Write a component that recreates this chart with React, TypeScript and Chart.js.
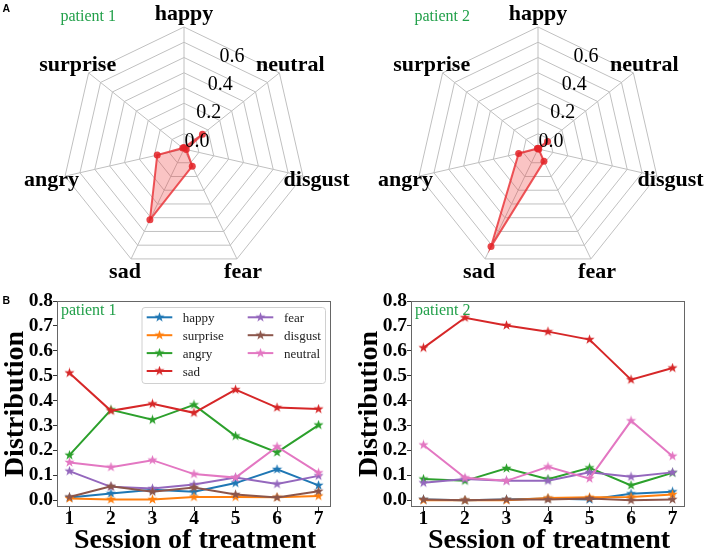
import React, { useEffect, useRef } from "react";
import { Chart, registerables } from "chart.js";
Chart.register(...registerables);

// ---------- data ----------
const radarLabels = ["happy", "neutral", "disgust", "fear", "sad", "angry", "surprise"];
const radarPatient1 = [0.01, 0.155, 0.015, 0.125, 0.515, 0.18, 0.01];
const radarPatient2 = [0.005, 0.08, 0.005, 0.09, 0.71, 0.13, 0.005];
const radarTickLabels = [0.0, 0.2, 0.4, 0.6];

const sessions = [1, 2, 3, 4, 5, 6, 7];
const yTickValues = [0.0, 0.1, 0.2, 0.3, 0.4, 0.5, 0.6, 0.7, 0.8];
const emotions = ["happy", "surprise", "angry", "sad", "fear", "disgust", "neutral"];

const p1Happy = [0.011, 0.027, 0.042, 0.034, 0.069, 0.124, 0.06];
const p1Surprise = [0.007, 0.003, 0.003, 0.013, 0.013, 0.012, 0.017];
const p1Angry = [0.181, 0.363, 0.323, 0.383, 0.258, 0.192, 0.302];
const p1Sad = [0.511, 0.359, 0.387, 0.351, 0.444, 0.372, 0.366];
const p1Fear = [0.117, 0.054, 0.047, 0.063, 0.091, 0.065, 0.098];
const p1Disgust = [0.013, 0.056, 0.034, 0.051, 0.023, 0.011, 0.036];
const p1Neutral = [0.152, 0.133, 0.161, 0.105, 0.091, 0.215, 0.11];

const p2Happy = [0.003, 0.0, 0.003, 0.007, 0.003, 0.026, 0.034];
const p2Surprise = [0.0, 0.0, 0.0, 0.009, 0.012, 0.013, 0.023];
const p2Angry = [0.085, 0.078, 0.128, 0.085, 0.13, 0.06, 0.11];
const p2Sad = [0.612, 0.733, 0.702, 0.677, 0.645, 0.484, 0.531];
const p2Fear = [0.07, 0.085, 0.078, 0.078, 0.112, 0.094, 0.112];
const p2Disgust = [0.003, 0.0, 0.003, 0.003, 0.007, 0.0, 0.003];
const p2Neutral = [0.222, 0.09, 0.078, 0.134, 0.087, 0.319, 0.177];

const patient1Series = [p1Happy, p1Surprise, p1Angry, p1Sad, p1Fear, p1Disgust, p1Neutral];
const patient2Series = [p2Happy, p2Surprise, p2Angry, p2Sad, p2Fear, p2Disgust, p2Neutral];

// ---------- styles ----------
const emotionColors = ["#1f77b4", "#ff7f0e", "#2ca02c", "#d62728", "#9467bd", "#8c564b", "#e377c2"];
const SERIF = '"Liberation Serif", "Times New Roman", Times, serif';
const SANS = '"Liberation Sans", Arial, "DejaVu Sans", sans-serif';
const GREEN = "#22a04a";

function makeStar(color: string, size = 11): HTMLCanvasElement {
  const c = document.createElement("canvas");
  c.width = size;
  c.height = size;
  const ctx = c.getContext("2d")!;
  const cx = size / 2, cy = size / 2;
  const ro = size / 2 - 0.2, ri = ro * 0.4;
  ctx.beginPath();
  for (let k = 0; k < 10; k++) {
    const r = k % 2 === 0 ? ro : ri;
    const a = -Math.PI / 2 + (k * Math.PI) / 5;
    const x = cx + r * Math.cos(a), y = cy + r * Math.sin(a);
    if (k === 0) ctx.moveTo(x, y); else ctx.lineTo(x, y);
  }
  ctx.closePath();
  ctx.fillStyle = color;
  ctx.fill();
  return c;
}

function radarTextPlugin(patient: string, letter: string | null) {
  return {
    id: "radarText",
    afterDraw(chart: any) {
      const ctx = chart.ctx;
      const s = chart.scales.r;
      ctx.save();
      ctx.fillStyle = "#000";
      ctx.font = `bold 22px ${SERIF}`;
      ctx.textAlign = "center";
      ctx.textBaseline = "alphabetic";
      radarLabels.forEach((lab, i) => {
        const p = s.getPointPosition(i, s.drawingArea + 14);
        ctx.fillText(lab, p.x, p.y + 6.5);
      });
      ctx.font = `20px ${SERIF}`;
      ctx.textAlign = "left";
      const a = (22.5 * Math.PI) / 180;
      radarTickLabels.forEach((v) => {
        const r = s.getDistanceFromCenterForValue(v);
        ctx.fillText(v.toFixed(1), s.xCenter + r * Math.sin(a) + 0.5, s.yCenter - r * Math.cos(a) - 2.5);
      });
      ctx.fillStyle = GREEN;
      ctx.font = `16px ${SERIF}`;
      ctx.fillText(patient, 60.5, 21);
      if (letter) {
        ctx.fillStyle = "#000";
        ctx.font = `bold 10.5px ${SANS}`;
        ctx.fillText(letter, 2.5, 11.5);
      }
      ctx.restore();
    },
  };
}

function RadarPanel({ values, patient, letter, left }: { values: number[]; patient: string; letter: string | null; left: number }) {
  const ref = useRef<HTMLCanvasElement>(null);
  useEffect(() => {
    const chart = new Chart(ref.current!, {
      type: "radar",
      data: {
        labels: radarLabels,
        datasets: [
          {
            data: values,
            borderColor: "rgba(232,45,50,0.8)",
            backgroundColor: "rgba(238,60,60,0.3)",
            fill: true,
            borderWidth: 2,
            pointRadius: 3.5,
            pointBackgroundColor: "rgba(228,35,40,0.85)",
            pointBorderWidth: 0,
          },
        ],
      },
      options: {
        responsive: false,
        animation: false,
        devicePixelRatio: 1,
        layout: { padding: { left: 62, right: 48, top: 27, bottom: 14 } },
        plugins: { legend: { display: false }, tooltip: { enabled: false } },
        scales: {
          r: {
            min: 0,
            max: 0.8,
            ticks: { stepSize: 0.1, display: false },
            grid: { color: "#c0c0c0", lineWidth: 1 },
            angleLines: { color: "#c0c0c0", lineWidth: 1 },
            pointLabels: { display: false },
          },
        },
      } as any,
      plugins: [radarTextPlugin(patient, letter)],
    });
    return () => chart.destroy();
  }, []);
  return (
    <canvas
      ref={ref}
      width={354}
      height={285}
      style={{ position: "absolute", left, top: 0, width: 354, height: 285 }}
    />
  );
}

function lineTextPlugin(patient: string, letter: string | null, showLegend: boolean, stars: HTMLCanvasElement[]) {
  return {
    id: "lineText",
    afterDraw(chart: any) {
      const ctx = chart.ctx;
      const ca = chart.chartArea;
      ctx.save();
      // frame
      ctx.strokeStyle = "#666";
      ctx.lineWidth = 1;
      ctx.strokeRect(ca.left + 0.5, ca.top + 0.5, ca.right - ca.left - 1, ca.bottom - ca.top - 1);
      // axis titles
      ctx.fillStyle = "#000";
      ctx.font = `bold 28px ${SERIF}`;
      ctx.textAlign = "center";
      ctx.textBaseline = "alphabetic";
      ctx.fillText("Session of treatment", (ca.left + ca.right) / 2 + 1, 263);
      ctx.save();
      ctx.translate(22.5, (ca.top + ca.bottom) / 2);
      ctx.rotate(-Math.PI / 2);
      ctx.fillText("Distribution", 0, 0);
      ctx.restore();
      // patient text
      ctx.textAlign = "left";
      ctx.fillStyle = GREEN;
      ctx.font = `16px ${SERIF}`;
      ctx.fillText(patient, ca.left + 4, ca.top + 14);
      if (letter) {
        ctx.fillStyle = "#000";
        ctx.font = `bold 10.5px ${SANS}`;
        ctx.fillText(letter, 2.5, 19);
      }
      if (showLegend) {
        const bx = 142, by = 22.5, bw = 183.5, bh = 76;
        ctx.beginPath();
        const rr = 3;
        ctx.moveTo(bx + rr, by);
        ctx.arcTo(bx + bw, by, bx + bw, by + bh, rr);
        ctx.arcTo(bx + bw, by + bh, bx, by + bh, rr);
        ctx.arcTo(bx, by + bh, bx, by, rr);
        ctx.arcTo(bx, by, bx + bw, by, rr);
        ctx.closePath();
        ctx.fillStyle = "rgba(255,255,255,0.8)";
        ctx.fill();
        ctx.strokeStyle = "#d0d0d0";
        ctx.lineWidth = 1;
        ctx.stroke();
        ctx.font = `13px ${SERIF}`;
        ctx.textBaseline = "alphabetic";
        emotions.forEach((e, i) => {
          const col = i < 4 ? 0 : 1;
          const row = i < 4 ? i : i - 4;
          const lx = col === 0 ? 146.7 : 247.7;
          const tx = col === 0 ? 182.7 : 284;
          const y = 32.3 + row * 17.9;
          ctx.strokeStyle = emotionColors[i];
          ctx.lineWidth = 2;
          ctx.beginPath();
          ctx.moveTo(lx, y);
          ctx.lineTo(lx + 25.6, y);
          ctx.stroke();
          const st = stars[i];
          ctx.drawImage(st, lx + 12.8 - st.width / 2, y - st.height / 2);
          ctx.fillStyle = "#222";
          ctx.fillText(e, tx, y + 4.5);
        });
      }
      ctx.restore();
    },
  };
}

function LinePanel({ series, patient, letter, showLegend, left }: { series: number[][]; patient: string; letter: string | null; showLegend: boolean; left: number }) {
  const ref = useRef<HTMLCanvasElement>(null);
  useEffect(() => {
    const stars = emotionColors.map((c) => makeStar(c, 11));
    const tickFont = { family: SERIF, size: 19.5, weight: "bold" as const };
    const chart = new Chart(ref.current!, {
      type: "line",
      data: {
        datasets: emotions.map((e, i) => ({
          label: e,
          data: sessions.map((s, k) => ({ x: s, y: series[i][k] })),
          borderColor: emotionColors[i],
          backgroundColor: emotionColors[i],
          borderWidth: 2,
          pointStyle: stars[i],
          pointRadius: 5,
          order: emotions.length - i,
          tension: 0,
          fill: false,
        })),
      },
      options: {
        responsive: false,
        animation: false,
        devicePixelRatio: 1,
        layout: { padding: { left: 0, top: 16, right: 23, bottom: 0 } },
        plugins: { legend: { display: false }, tooltip: { enabled: false } },
        scales: {
          x: {
            type: "linear",
            min: 0.7,
            max: 7.3,
            afterBuildTicks: (s: any) => {
              s.ticks = sessions.map((v) => ({ value: v }));
            },
            afterFit: (s: any) => {
              s.height = 44;
            },
            grid: { display: true, drawOnChartArea: false, drawTicks: true, tickLength: 4, color: "#333" },
            border: { display: false },
            ticks: { font: tickFont, color: "#000", padding: -4, maxRotation: 0, autoSkip: false, callback: (v: any) => String(v) },
          },
          y: {
            type: "linear",
            min: -0.027,
            max: 0.8,
            afterBuildTicks: (s: any) => {
              s.ticks = yTickValues.map((v) => ({ value: v }));
            },
            afterFit: (s: any) => {
              s.width = 57;
            },
            grid: { display: true, drawOnChartArea: false, drawTicks: true, tickLength: 4, color: "#333" },
            border: { display: false },
            ticks: { font: tickFont, color: "#000", padding: 0, autoSkip: false, callback: (v: any) => Number(v).toFixed(1) },
          },
        },
      } as any,
      plugins: [lineTextPlugin(patient, letter, showLegend, stars)],
    });
    return () => chart.destroy();
  }, []);
  return (
    <canvas
      ref={ref}
      width={354}
      height={266}
      style={{ position: "absolute", left, top: 285, width: 354, height: 266 }}
    />
  );
}

export default function App() {
  return (
    <div style={{ position: "fixed", left: 0, top: 0, width: 708, height: 551, background: "#fff", overflow: "hidden" }}>
      <RadarPanel values={radarPatient1} patient="patient 1" letter="A" left={0} />
      <RadarPanel values={radarPatient2} patient="patient 2" letter={null} left={354} />
      <LinePanel series={patient1Series} patient="patient 1" letter="B" showLegend={true} left={0} />
      <LinePanel series={patient2Series} patient="patient 2" letter={null} showLegend={false} left={354} />
    </div>
  );
}
